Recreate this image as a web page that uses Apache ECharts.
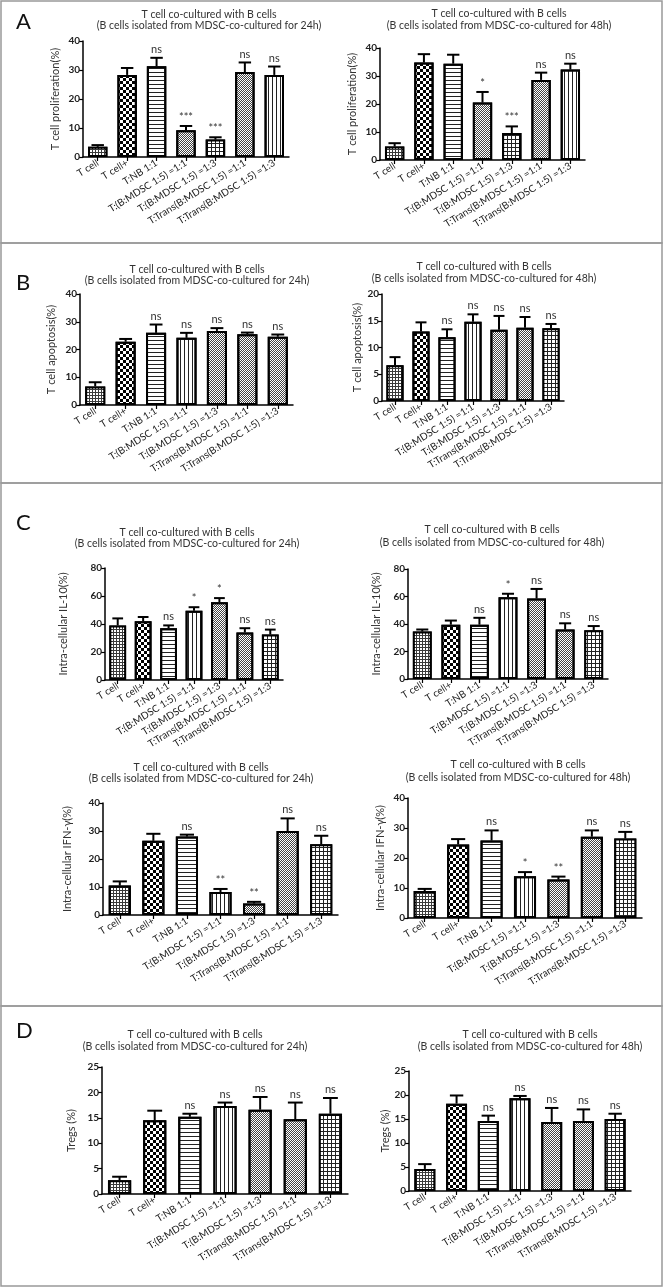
<!DOCTYPE html>
<html><head><meta charset="utf-8">
<script src="https://cdn.jsdelivr.net/npm/echarts@6/dist/echarts.min.js"></script>
<style>html,body{margin:0;padding:0;background:#fff}#c{width:664px;height:1288px}</style>
</head><body><div id="c"></div>
<script>
const categories = ['T cell','T cell+','T:NB 1:1','T:(B:MDSC 1:5) =1:1','T:(B:MDSC 1:5) =1:3','T:Trans(B:MDSC 1:5) =1:1','T:Trans(B:MDSC 1:5) =1:3'];
const titleLine1 = 'T cell co-cultured with B cells';
const titleLine24 = '(B cells isolated from MDSC-co-cultured for 24h)';
const titleLine48 = '(B cells isolated from MDSC-co-cultured for 48h)';
const panelLetters = ['A','B','C','D'];
const yNames = ['T cell proliferation(%)','T cell apoptosis(%)','Intra-cellular IL-10(%)','Intra-cellular IFN-γ(%)','Tregs (%)'];

// A: T cell proliferation
const prolif24Mean = [3.5, 28.3, 31.3, 9.2, 6.0, 29.3, 28.3];
const prolif24Err  = [0.6, 2.4, 2.9, 1.5, 0.8, 3.3, 2.9];
const prolif24Sig  = ['', '', 'ns', '***', '***', 'ns', 'ns'];
const prolif48Mean = [4.8, 34.8, 34.4, 20.5, 9.6, 28.6, 32.3];
const prolif48Err  = [1.2, 3.0, 3.2, 3.8, 2.4, 2.6, 2.1];
const prolif48Sig  = ['', '', '', '*', '***', 'ns', 'ns'];
// B: T cell apoptosis
const apop24Mean = [6.7, 22.8, 26.0, 24.2, 26.7, 25.5, 24.6];
const apop24Err  = [1.5, 1.0, 3.0, 1.8, 1.0, 0.6, 0.8];
const apop24Sig  = ['', '', 'ns', 'ns', 'ns', 'ns', 'ns'];
const apop48Mean = [6.7, 13.0, 11.9, 14.8, 13.3, 13.7, 13.6];
const apop48Err  = [1.5, 1.7, 1.5, 1.4, 2.6, 2.0, 0.8];
const apop48Sig  = ['', '', 'ns', 'ns', 'ns', 'ns', 'ns'];
// C: IL-10
const il10_24Mean = [39, 42, 37, 49.5, 55.5, 34, 32.5];
const il10_24Err  = [5, 3, 2, 2.5, 3, 3, 3.5];
const il10_24Sig  = ['', '', 'ns', '*', '*', 'ns', 'ns'];
const il10_48Mean = [34.5, 39.5, 39.5, 59.5, 58.5, 36, 35.5];
const il10_48Err  = [1.5, 3, 5, 2.5, 7, 4.5, 3];
const il10_48Sig  = ['', '', 'ns', '*', 'ns', 'ns', 'ns'];
// C: IFN-gamma
const ifn24Mean = [10.5, 26.5, 28.0, 8.2, 4.1, 30.0, 25.3];
const ifn24Err  = [1.5, 2.5, 0.7, 1.1, 0.6, 4.5, 3.0];
const ifn24Sig  = ['', '', 'ns', '**', '**', 'ns', 'ns'];
const ifn48Mean = [9.0, 24.5, 25.8, 13.9, 12.8, 27.1, 26.5];
const ifn48Err  = [0.7, 1.8, 3.4, 1.4, 1.0, 2.1, 2.2];
const ifn48Sig  = ['', '', 'ns', '*', '**', 'ns', 'ns'];
// D: Tregs
const treg24Mean = [2.7, 14.5, 15.2, 17.3, 16.6, 14.7, 15.8];
const treg24Err  = [0.7, 1.9, 0.6, 0.7, 2.5, 3.3, 3.1];
const treg24Sig  = ['', '', 'ns', 'ns', 'ns', 'ns', 'ns'];
const treg48Mean = [4.6, 18.2, 14.6, 19.3, 14.4, 14.6, 15.0];
const treg48Err  = [1.0, 1.7, 1.1, 0.5, 2.9, 2.4, 1.1];
const treg48Sig  = ['', '', 'ns', 'ns', 'ns', 'ns', 'ns'];

// ---- styling / layout ----
const FONT = 'Lato';
const decals = {
  fine:   {fill:'#3a3a3a', decal:{symbol:'rect', symbolSize:1, dashArrayX:[2,1], dashArrayY:[2,1], color:'#ffffff'}},
  checker:{fill:'#ffffff', decal:{symbol:'rect', symbolSize:1, dashArrayX:[[3,3],[0,3,3,0]], dashArrayY:[3,0], color:'#000000'}},
  hline:  {fill:'#ffffff', decal:{symbol:'rect', symbolSize:1, dashArrayX:[1,0], dashArrayY:[1,2.5], color:'#222222'}},
  vline:  {fill:'#ffffff', decal:{symbol:'rect', symbolSize:1, dashArrayX:[1,3], dashArrayY:[1,0], color:'#222222'}},
  dots:   {fill:'#ffffff', decal:{symbol:'rect', symbolSize:1, dashArrayX:[[1,1],[0,1,1,0]], dashArrayY:[1,0], color:'#444444'}},
  grid:   {fill:'#222222', decal:{symbol:'rect', symbolSize:1, dashArrayX:[3,1], dashArrayY:[3,1], color:'#ffffff'}}
};
const patA = ['fine','checker','hline','dots','grid','dots','vline'];
const patB24 = ['fine','checker','hline','vline','dots','dots','dots'];
const patStd = ['fine','checker','hline','vline','dots','dots','grid'];

const charts = [
  {mean:prolif24Mean, err:prolif24Err, sig:prolif24Sig, max:40, step:10, name:yNames[0], gap:22, pat:patA,  g:{left:83, top:41, width:206, height:116}},
  {mean:prolif48Mean, err:prolif48Err, sig:prolif48Sig, max:40, step:10, name:yNames[0], gap:22, pat:patA,  g:{left:380, top:48, width:205, height:112}},
  {mean:apop24Mean, err:apop24Err, sig:apop24Sig, max:40, step:10, name:yNames[1], gap:23, pat:patB24, g:{left:80, top:294, width:213, height:111}},
  {mean:apop48Mean, err:apop48Err, sig:apop48Sig, max:20, step:5, name:yNames[1], gap:19, pat:patStd, g:{left:382, top:294, width:182, height:107}},
  {mean:il10_24Mean, err:il10_24Err, sig:il10_24Sig, max:80, step:20, name:yNames[2], gap:36, pat:patStd, g:{left:105, top:568, width:178, height:112}},
  {mean:il10_48Mean, err:il10_48Err, sig:il10_48Sig, max:80, step:20, name:yNames[2], gap:26, pat:patStd, g:{left:408, top:569, width:200, height:110}},
  {mean:ifn24Mean, err:ifn24Err, sig:ifn24Sig, max:40, step:10, name:yNames[3], gap:30, pat:patStd, g:{left:103, top:803, width:235, height:112}},
  {mean:ifn48Mean, err:ifn48Err, sig:ifn48Sig, max:40, step:10, name:yNames[3], gap:22, pat:patStd, g:{left:408, top:798, width:234, height:120}},
  {mean:treg24Mean, err:treg24Err, sig:treg24Sig, max:25, step:5, name:yNames[4], gap:25, pat:patStd, g:{left:102, top:1067, width:246, height:127}},
  {mean:treg48Mean, err:treg48Err, sig:treg48Sig, max:25, step:5, name:yNames[4], gap:16, pat:patStd, g:{left:409, top:1071, width:222, height:120}}
];

const titlePos = [
  {x:209, y1:15, y2:26, l2:titleLine24}, {x:499, y1:14, y2:26, l2:titleLine48},
  {x:197, y1:270, y2:281, l2:titleLine24}, {x:484, y1:267, y2:279, l2:titleLine48},
  {x:187, y1:533, y2:544, l2:titleLine24}, {x:492, y1:530, y2:543, l2:titleLine48},
  {x:201, y1:768, y2:779, l2:titleLine24}, {x:518, y1:765, y2:778, l2:titleLine48},
  {x:195, y1:1035, y2:1047, l2:titleLine24}, {x:530, y1:1035, y2:1047, l2:titleLine48}
];
const letterPos = [{x:16, y:22}, {x:16, y:283}, {x:16, y:523}, {x:16, y:1031}];
const panelRects = [{y:1, h:242}, {y:243, h:240}, {y:483, h:523}, {y:1006, h:280}];

const grid = [], xAxis = [], yAxis = [], series = [], graphic = [];
charts.forEach((c, gi) => {
  grid.push(Object.assign({containLabel:false}, c.g));
  xAxis.push({type:'category', gridIndex:gi, data:categories,
    axisLine:{lineStyle:{color:'#000', width:1.5}},
    axisTick:{show:true, alignWithLabel:true, length:4, lineStyle:{color:'#000', width:1.2}},
    axisLabel:{rotate:32, interval:0, fontSize:10, color:'#222', margin:5, fontFamily:FONT}});
  yAxis.push({type:'value', gridIndex:gi, min:0, max:c.max, interval:c.step,
    axisLine:{show:true, lineStyle:{color:'#000', width:1.5}},
    axisTick:{show:true, length:4, lineStyle:{color:'#000', width:1.2}},
    splitLine:{show:false},
    axisLabel:{fontSize:10, fontWeight:'bold', color:'#222', margin:3, fontFamily:FONT},
    name:c.name, nameLocation:'middle', nameGap:c.gap, nameRotate:90,
    nameTextStyle:{fontSize:11, color:'#333', fontFamily:FONT}});
  series.push({type:'bar', xAxisIndex:gi, yAxisIndex:gi, barWidth:'66%', silent:true,
    data:c.mean.map((v, i) => {
      const p = decals[c.pat[i]];
      return {value:v, itemStyle:{color:p.fill, decal:p.decal, borderColor:'#000', borderWidth:2}};
    })});
  const sig = c.sig;
  series.push({type:'custom', xAxisIndex:gi, yAxisIndex:gi, z:5, silent:true,
    data:c.mean.map((m, i) => [i, m, m + c.err[i]]),
    renderItem(params, api) {
      const i = api.value(0);
      const p0 = api.coord([i, api.value(1)]);
      const p1 = api.coord([i, api.value(2)]);
      const bw = api.size([1, 0])[0] * 0.66;
      const cap = bw * 0.32;
      const ch = [
        {type:'line', shape:{x1:p0[0], y1:p0[1], x2:p1[0], y2:p1[1]}, style:{stroke:'#000', lineWidth:2}},
        {type:'line', shape:{x1:p1[0]-cap, y1:p1[1], x2:p1[0]+cap, y2:p1[1]}, style:{stroke:'#000', lineWidth:2}}
      ];
      const s = sig[params.dataIndex];
      if (s) ch.push({type:'text', style:{text:s, x:p1[0], y:p1[1]-3, align:'center', verticalAlign:'bottom',
        font:'11px ' + FONT, fill:'#333'}});
      return {type:'group', children:ch};
    }});
  const t = titlePos[gi];
  graphic.push({type:'text', x:t.x, y:t.y1, style:{text:titleLine1, align:'center', verticalAlign:'middle', font:'10.5px ' + FONT, fill:'#333'}});
  graphic.push({type:'text', x:t.x, y:t.y2, style:{text:t.l2, align:'center', verticalAlign:'middle', font:'10.5px ' + FONT, fill:'#333'}});
});
panelRects.forEach(r => graphic.push({type:'rect', shape:{x:1, y:r.y, width:661, height:r.h}, style:{fill:'none', stroke:'#999', lineWidth:1.5}, z:-1}));
panelLetters.forEach((l, i) => graphic.push({type:'text', x:letterPos[i].x, y:letterPos[i].y, style:{text:l, align:'left', verticalAlign:'middle', font:'22px ' + FONT, fill:'#111'}}));

const chart = echarts.init(document.getElementById('c'), null, {renderer:'canvas'});
chart.setOption({animation:false, backgroundColor:'#fff', textStyle:{fontFamily:FONT}, grid, xAxis, yAxis, series, graphic});
</script></body></html>
